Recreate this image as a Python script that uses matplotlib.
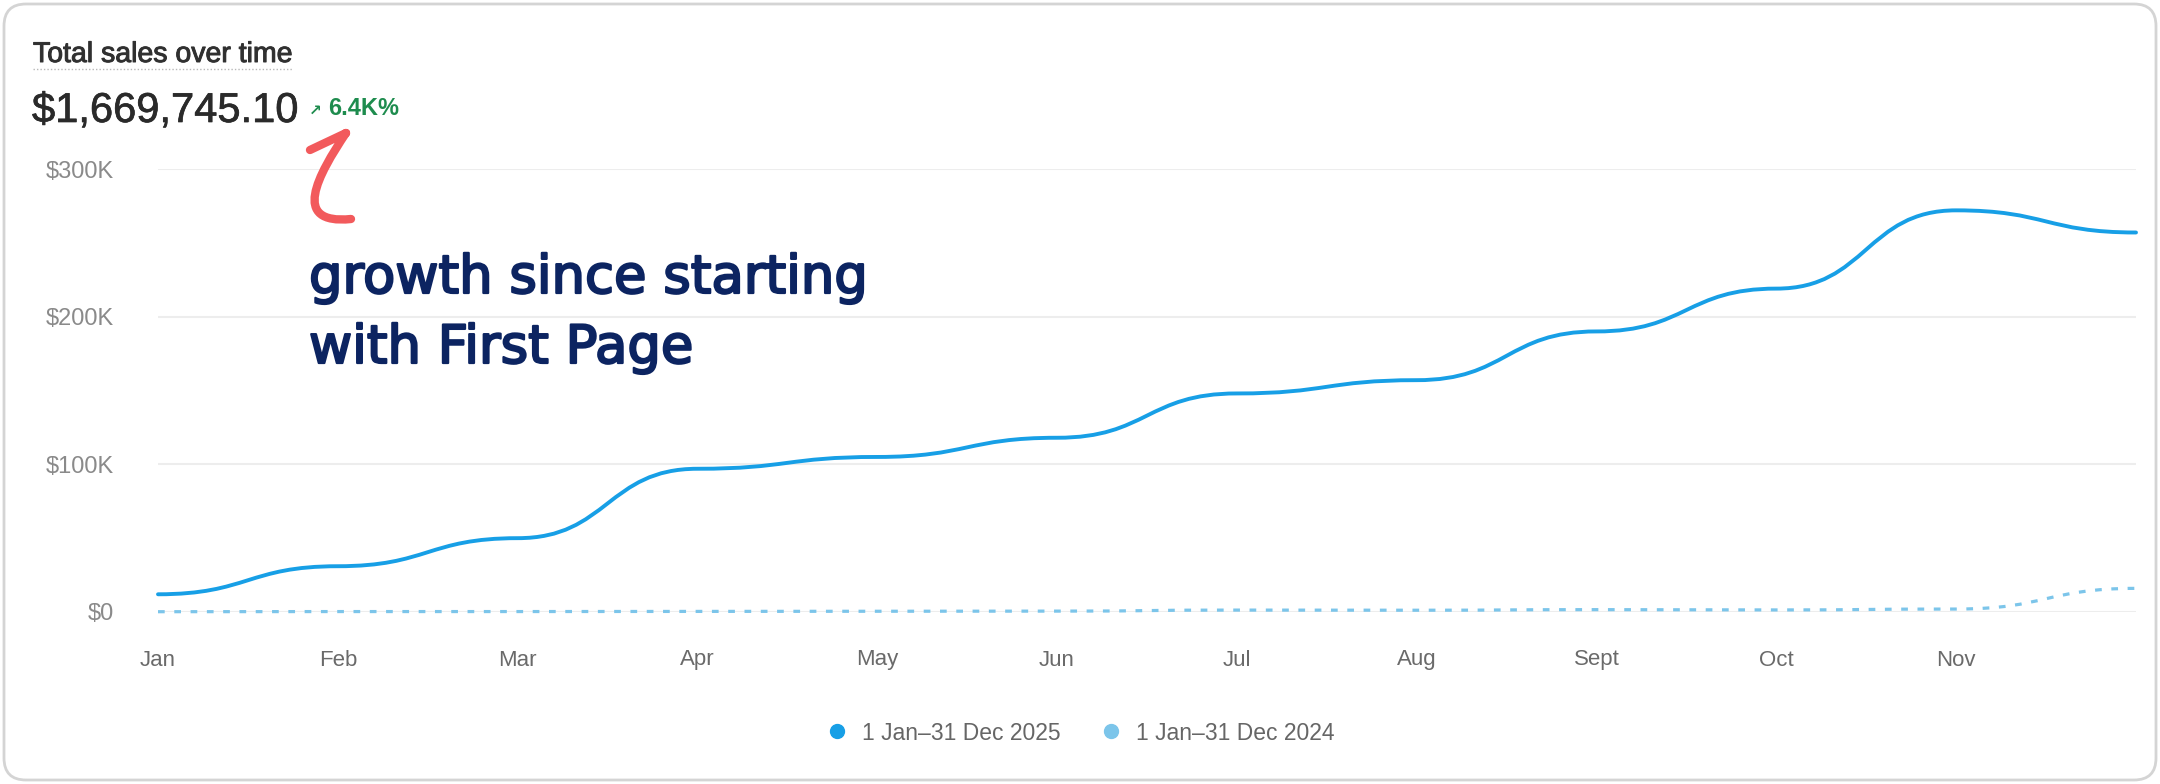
import matplotlib
matplotlib.use("Agg")
import matplotlib.pyplot as plt
import matplotlib.patheffects as pe
from matplotlib.path import Path
from matplotlib.patches import PathPatch, FancyBboxPatch
from matplotlib.lines import Line2D

# monthly sales, thousands of dollars
months = ["Jan", "Feb", "Mar", "Apr", "May", "Jun", "Jul", "Aug", "Sept", "Oct", "Nov", "Dec"]
sales_2025 = [12, 31, 50, 97, 105, 118, 148, 157, 190, 219, 272, 257]
sales_2024 = [0.2, 0.3, 0.3, 0.4, 0.5, 0.6, 1.3, 1.2, 1.6, 1.4, 2.0, 16.0]
x_tick_labels = months[:11]
y_ticks = [0, 100, 200, 300]
y_tick_labels = ["$0", "$100K", "$200K", "$300K"]
legend_labels = ["1 Jan–31 Dec 2025", "1 Jan–31 Dec 2024"]
total_label = "$1,669,745.10"
growth_label = "6.4K%"

W, H = 2160, 784
BLUE = "#179fe6"
LIGHT_BLUE = "#7cc5ea"

plt.rcParams["font.family"] = ["Liberation Sans", "DejaVu Sans"]

fig = plt.figure(figsize=(W / 100, H / 100), dpi=100, facecolor="white")

# plot area in pixels: x 158..2136, y 169..612
ax = fig.add_axes([158 / W, (H - 612) / H, (2136 - 158) / W, (612 - 169) / H])
ax.set_xlim(0, 11)
ax.set_ylim(0, 300)
for s in ax.spines.values():
    s.set_visible(False)
ax.set_yticks(y_ticks)
ax.set_yticklabels(y_tick_labels)
ax.set_xticks(range(len(x_tick_labels)))
ax.set_xticklabels(x_tick_labels)
ax.tick_params(axis="y", length=0, pad=32, labelsize=17, labelcolor="#8a8a8a")
ax.tick_params(axis="x", length=0, pad=27, labelsize=16, labelcolor="#6a6a6a")
ax.grid(axis="y", color="#ededed", lw=1.5)
ax.set_axisbelow(True)


def bump_path(xs, ys):
    # smooth step-like curve between monthly points
    verts = [(xs[0], ys[0])]
    codes = [Path.MOVETO]
    for i in range(1, len(xs)):
        xm = (xs[i - 1] + xs[i]) / 2
        verts += [(xm, ys[i - 1]), (xm, ys[i]), (xs[i], ys[i])]
        codes += [Path.CURVE4] * 3
    return Path(verts, codes)


xs = list(range(len(months)))
ax.add_patch(PathPatch(bump_path(xs, sales_2024), fill=False, ec=LIGHT_BLUE, lw=2.3,
                       ls=(0, (2.1, 3.0)), clip_on=False, zorder=3))
ax.add_patch(PathPatch(bump_path(xs, sales_2025), fill=False, ec=BLUE, lw=2.8,
                       clip_on=False, zorder=4, capstyle="round", joinstyle="round"))

handles = [Line2D([], [], marker="o", ls="none", ms=10, color=BLUE),
           Line2D([], [], marker="o", ls="none", ms=10, color=LIGHT_BLUE)]
fig.legend(handles, legend_labels, loc="center", bbox_to_anchor=(0.5, (H - 733) / H),
           ncol=2, frameon=False, fontsize=16.5, labelcolor="#666666",
           handletextpad=0.6, columnspacing=1.7, handlelength=1.0)

# overlay in pixel coordinates for card, header and annotation
ov = fig.add_axes([0, 0, 1, 1], zorder=5)
ov.set_xlim(0, W)
ov.set_ylim(H, 0)
ov.axis("off")

ov.add_patch(FancyBboxPatch((4, 4), W - 8, H - 8, boxstyle="round,pad=0,rounding_size=22",
                            fc="none", ec="#d4d4d4", lw=2))

heavy = [pe.withStroke(linewidth=0.7, foreground="#303030")]
ov.text(33, 62, "Total sales over time", fontsize=20.5, color="#303030", va="baseline",
        path_effects=heavy)
ov.plot([33, 293], [69, 69], color="#b8b8b8", lw=1, ls=(0, (1, 1.5)))
ov.text(32, 122, total_label, fontsize=30, color="#2a2a2a", va="baseline",
        path_effects=[pe.withStroke(linewidth=0.5, foreground="#2a2a2a")])
ov.text(309, 115, "↗", fontsize=11, color="#1e8c4e", va="baseline", fontweight="bold",
        family=["DejaVu Sans"])
ov.text(328, 115, growth_label, fontsize=17, color="#1e8c4e", va="baseline", fontweight="bold")

# hand drawn arrow: "(" shaped shaft plus one barb
arrow = Path([(351, 219), (290, 225), (318, 175), (346, 133),
              (346, 133), (310, 150)],
             [Path.MOVETO, Path.CURVE4, Path.CURVE4, Path.CURVE4,
              Path.MOVETO, Path.LINETO])
ov.add_patch(PathPatch(arrow, fill=False, ec="#f25a5c", lw=6, capstyle="round", joinstyle="round"))

hand = [pe.withStroke(linewidth=1.6, foreground="#0c2461")]
ov.text(309, 293, "growth since starting", fontsize=38, color="#0c2461", va="baseline",
        family=["DejaVu Sans"], path_effects=hand)
ov.text(309, 363, "with First Page", fontsize=38, color="#0c2461", va="baseline",
        family=["DejaVu Sans"], path_effects=hand)

fig.savefig("out.png", dpi=100, facecolor="white")
